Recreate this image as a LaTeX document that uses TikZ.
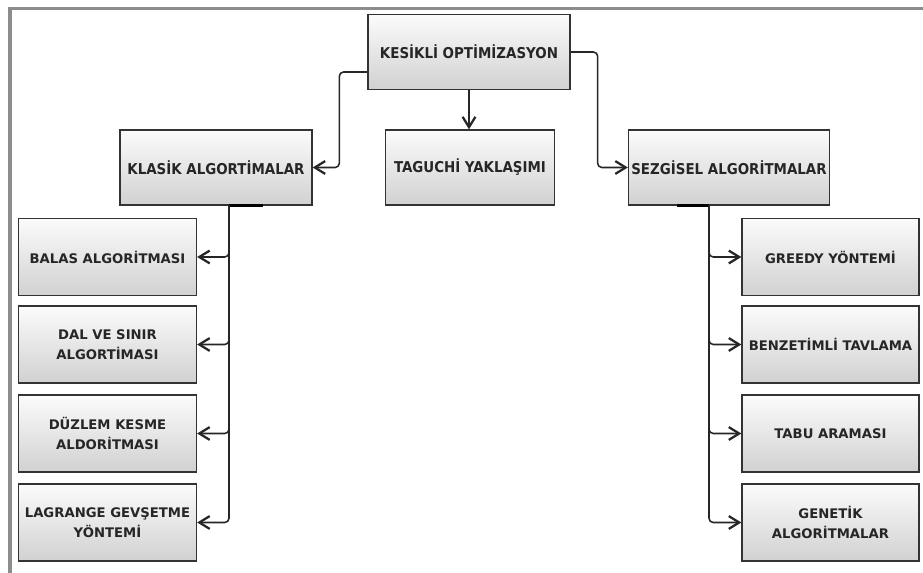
\documentclass[tikz,border=0pt]{standalone}
\usepackage{fontspec}
\setmainfont{DejaVu Sans}
\newfontfamily\condfont{DejaVu Sans Condensed}
\usetikzlibrary{arrows.meta}

\tikzset{
  box/.style={draw=black!80, line width=0.9pt, top color=gray!3, bottom color=gray!36,
    text=black!85, align=center, inner sep=0pt},
  topbox/.style={box, minimum width=#1, minimum height=1.875cm,
    font=\condfont\bfseries\fontsize{10.6}{12}\selectfont},
  subbox/.style={box, minimum width=4.45cm, minimum height=1.925cm,
    font=\bfseries\fontsize{9.4}{14}\selectfont},
  link/.style={draw=black!85, line width=1.1pt, rounded corners=3pt,
    -{Straight Barb[length=2.6mm,width=3.2mm,line width=1.6pt]}},
  bar/.style={line width=2pt, black}
}

\begin{document}
\begin{tikzpicture}[x=0.025cm,y=0.025cm]
  \useasboundingbox (0,0) rectangle (923,573);
  % frame
  \draw[line width=2.2pt, black!45] (923,564.5) -- (10,564.5) -- (10,0);

  % main level
  \node[topbox=5.05cm] (kes) at (469,521) {KESİKLİ OPTİMİZASYON};
  \node[topbox=4.8cm] (klasik) at (216,405.5) {KLASİK ALGORTİMALAR};
  \node[topbox=4.225cm] (tag) at (470,405.5) {TAGUCHİ YAKLAŞIMI};
  \node[topbox=5.025cm] (sez) at (729,405.5) {SEZGİSEL ALGORİTMALAR};

  \draw[link] ([yshift=-5mm]kes.west) -- ++(-28,0) |- (klasik.east);
  \draw[link] (kes.south) -- (kes.south |- tag.north);
  \draw[link] (kes.east) -- ++(27,0) |- (sez.west);

  % left branch
  \foreach \nm/\yy/\txt in {balas/316/{BALAS ALGORİTMASI},
      dal/228.5/{DAL VE SINIR\\ALGORTİMASI},
      duzlem/139.5/{DÜZLEM KESME\\ALDORİTMASI},
      lagrange/50.5/{LAGRANGE GEVŞETME\\YÖNTEMİ}}
    \node[subbox] (\nm) at (107.5,\yy) {\txt};

  \coordinate (kl) at ([xshift=0.325cm]klasik.south);
  \draw[bar] (kl) -- ++(34,0);
  \foreach \nm in {balas,dal,duzlem,lagrange}
    \draw[link] (kl) |- (\nm.east);

  % right branch
  \foreach \nm/\yy/\txt in {greedy/316/{GREEDY YÖNTEMİ},
      benzet/228.5/{BENZETİMLİ TAVLAMA},
      tabu/139.5/{TABU ARAMASI},
      genetik/50.5/{GENETİK\\ALGORİTMALAR}}
    \node[subbox, minimum width=4.425cm] (\nm) at (830.5,\yy) {\txt};

  \coordinate (sr) at ([xshift=-0.5cm]sez.south);
  \draw[bar] (sr) -- ++(-32,0);
  \foreach \nm in {greedy,benzet,tabu,genetik}
    \draw[link] (sr) |- (\nm.west);
\end{tikzpicture}
\end{document}
